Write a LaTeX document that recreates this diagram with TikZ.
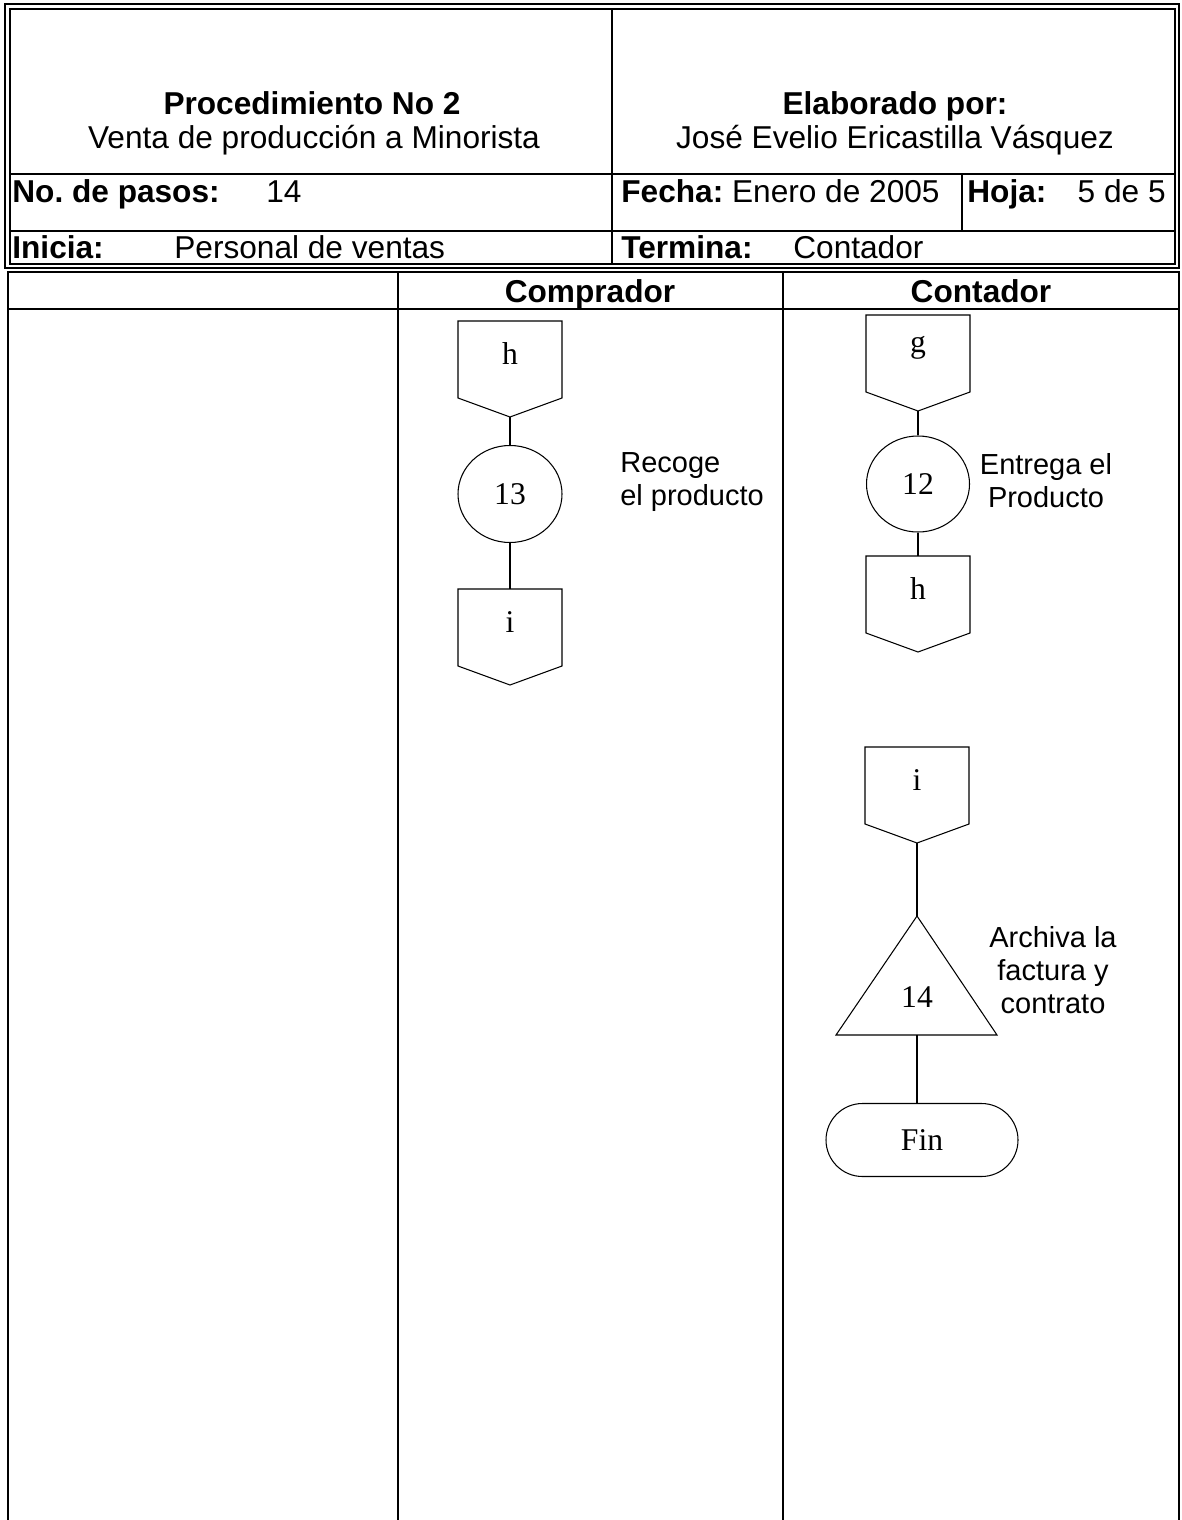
\documentclass[tikz,border=0pt]{standalone}
\usepackage{fontspec}
\setmainfont{Liberation Sans}
\newfontfamily\tnr{Liberation Serif}
\usetikzlibrary{shapes.geometric,shapes.misc}
\frenchspacing

\tikzset{
  shp/.style={draw, line width=0.6pt},
  lbl/.style={font=\tnr\fontsize{18}{21}\selectfont, inner sep=0pt},
  note/.style={font=\fontsize{16.5}{18.8}\selectfont, align=center, inner sep=0pt},
  hdr/.style={font=\fontsize{18}{21}\selectfont, inner sep=0pt, anchor=base west},
  ttl/.style={font=\fontsize{18}{21}\selectfont, inner sep=0pt, anchor=base},
  grid/.style={line width=1.1pt},
}

% off-page connector: name, x, top, label
\newcommand{\offpage}[4]{%
  \draw[shp] ({#2-52},#3) -- ({#2+52},#3) -- ({#2+52},{#3+77}) -- (#2,{#3+96}) -- ({#2-52},{#3+77}) -- cycle;
  \node[lbl] (#1) at (#2,{#3+33}) {#4};
  \coordinate (#1-in) at (#2,#3);
  \coordinate (#1-out) at (#2,{#3+96});
}

\begin{document}
\begin{tikzpicture}[x=0.02cm, y=-0.02cm]
	\useasboundingbox (0,0) rectangle (1181,1520);

	% --- 1. HEADER BOX ---
	\draw[line width=1.4pt] (5,4) rectangle (1179,268);
	\draw[line width=0.8pt] (10,9) rectangle (1175,264);
	\draw[grid] (10,174) -- (1175,174);
	\draw[grid] (10,231) -- (1175,231);
	\draw[grid] (612,9) -- (612,264);
	\draw[grid] (962,174) -- (962,231);

	\node[ttl] (proc) at (312,115) {\bfseries Procedimiento No 2};
	\node[ttl] (venta) at (314,149) {Venta de producción a Minorista};
	\node[ttl] (elab) at (895,115) {\bfseries Elaborado por:};
	\node[ttl] (autor) at (895,149) {José Evelio Ericastilla Vásquez};

	\node[hdr] (pasos) at (12,203) {\bfseries No. de pasos:};
	\node[hdr] (npasos) at (266,203) {14};
	\node[hdr] (fecha) at (621,203) {\textbf{Fecha:} Enero de 2005};
	\node[hdr] (hoja) at (967,203) {\bfseries Hoja:};
	\node[hdr, anchor=base east] (nhoja) at (1166,203) {5 de 5};
	\node[hdr] (inicia) at (12,259) {\bfseries Inicia:};
	\node[hdr] (quien) at (174,259) {Personal de ventas};
	\node[hdr] (termina) at (621,259) {\bfseries Termina:};
	\node[hdr] (fin-quien) at (793,259) {Contador};

	% --- 2. TABLE ---
	\draw[grid] (8,1520) -- (8,272) -- (1179,272) -- (1179,1520);
	\draw[grid] (8,309) -- (1179,309);
	\draw[grid] (398,272) -- (398,1520);
	\draw[grid] (783,272) -- (783,1520);
	\node[ttl] (comprador) at (590,302) {\bfseries Comprador};
	\node[ttl] (contador) at (981,302) {\bfseries Contador};

	% --- 3. COMPRADOR ---
	\offpage{hA}{510}{321}{h}
	\node[shp, ellipse, minimum width=104*0.02cm, minimum height=97*0.02cm, lbl] (p13) at (510,494) {13};
	\offpage{iA}{510}{589}{i}
	\draw[shp] (hA-out) -- (p13);
	\draw[shp] (p13) -- (iA-in);
	\node[note, align=left, anchor=west] (t13) at (620,482) {Recoge\\el producto};

	% --- 4. CONTADOR ---
	\offpage{gB}{918}{315}{g}
	\node[shp, ellipse, minimum width=103*0.02cm, minimum height=96*0.02cm, lbl] (p12) at (918,484) {12};
	\offpage{hB}{918}{556}{h}
	\draw[shp] (gB-out) -- (p12);
	\draw[shp] (p12) -- (hB-in);
	\node[note] (t12) at (1046,481) {Entrega el\\Producto};

	\offpage{iB}{917}{747}{i}
	\coordinate (apex) at (917,916);
	\draw[shp] (apex) -- (997,1035) -- (836,1035) -- cycle;
	\node[lbl] (p14) at (917,997) {14};
	\coordinate (base) at (917,1035);
	\node[shp, rounded rectangle, minimum width=192*0.02cm, minimum height=73*0.02cm, lbl] (fin) at (922,1140) {Fin};
	\draw[shp] (iB-out) -- (apex);
	\draw[shp] (base) -- (fin.north -| base);
	\node[note] (t14) at (1053,970) {Archiva la\\factura y\\contrato};
\end{tikzpicture}
\end{document}
